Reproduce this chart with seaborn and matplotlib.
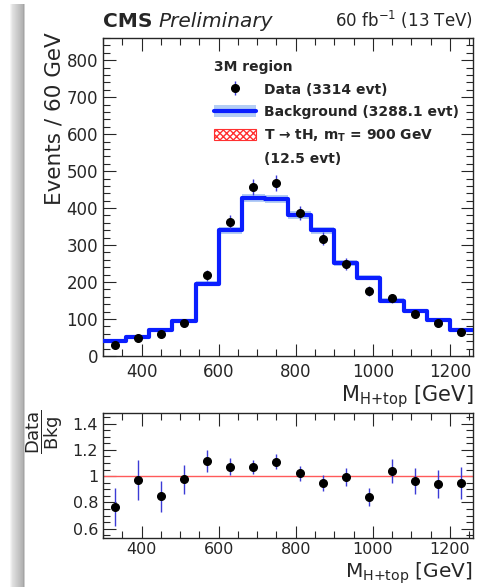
import numpy as np
import matplotlib.pyplot as plt
import seaborn as sns
from matplotlib.patches import Patch
from matplotlib.lines import Line2D
from matplotlib.ticker import MultipleLocator, FuncFormatter

# Binning (60 GeV bins)
bin_edges = [300, 360, 420, 480, 540, 600, 660, 720, 780, 840, 900, 960, 1020, 1080, 1140, 1200, 1260]
bin_centers = [330, 390, 450, 510, 570, 630, 690, 750, 810, 870, 930, 990, 1050, 1110, 1170, 1230]

# Expected background, its uncertainty and the T -> tH signal (stacked on top)
background = [41, 52, 70, 94, 196, 340, 428, 424, 381, 340, 252, 212, 150, 122, 97, 69]
background_unc = [4, 4, 5, 6, 8, 10, 11, 11, 10, 10, 8, 7, 6, 5, 5, 4]
signal = [0, 0, 0, 0, 0, 0, 0.1, 0.3, 0.8, 2.5, 4.0, 2.5, 1.2, 0.6, 0.3, 0.2]

# Observed data
data = [30, 50, 59, 90, 218, 362, 457, 467, 387, 317, 248, 176, 156, 114, 90, 65]
data_err = [6, 7, 8, 10, 15, 19, 21, 22, 20, 18, 16, 13, 12, 11, 10, 8]

# Data / background ratio
ratio = [0.765, 0.97, 0.846, 0.975, 1.114, 1.072, 1.072, 1.111, 1.022, 0.949, 0.993, 0.844, 1.04, 0.965, 0.938, 0.949]
ratio_err = [0.145, 0.15, 0.12, 0.113, 0.084, 0.064, 0.054, 0.06, 0.056, 0.058, 0.068, 0.068, 0.092, 0.098, 0.107, 0.123]

blue = '#0a1eff'
band_color = '#b3cdf5'
red = '#ff3030'
err_color = '#3b3bd6'

sns.set_style("ticks")
plt.rcParams['font.family'] = 'DejaVu Sans'
plt.rcParams['mathtext.fontset'] = 'dejavusans'

fig = plt.figure(figsize=(4.81, 5.87), dpi=100)
ax = fig.add_axes([103 / 481, 1 - 356 / 587, 370 / 481, 318 / 587])
ax2 = fig.add_axes([103 / 481, 1 - 538 / 587, 370 / 481, 125 / 587])

# page shadow on the left side
bg = fig.add_axes([0, 0, 26 / 481, 1 - 4 / 587], zorder=-5)
shade = np.interp(np.arange(26), [0, 9, 12, 22, 23.5, 24.5, 25], [1, 1, 0.88, 0.7, 0.62, 1, 1])
bg.imshow(np.tile(shade, (50, 1)), cmap='gray', vmin=0, vmax=1, aspect='auto',
          extent=[0, 1, 0, 1])
bg.axis('off')

# ---- main panel ----
bkg = np.array(background, dtype=float)
unc = np.array(background_unc, dtype=float)
sig = np.array(signal, dtype=float)

ax.stairs(bkg + unc, bin_edges, baseline=bkg - unc, fill=True,
          facecolor=band_color, edgecolor='none', zorder=1)
ax.stairs(bkg + sig, bin_edges, baseline=bkg, fill=True, facecolor='none',
          edgecolor=red, hatch='xxxxx', linewidth=0.8, zorder=2)
# background as a step line (last value repeated to close the last bin)
sns.lineplot(x=bin_edges, y=background + [background[-1]], drawstyle='steps-post',
             color=blue, linewidth=3, ax=ax, zorder=3)
data_plot = ax.errorbar(bin_centers, data, yerr=data_err, fmt='o', color='black',
                        ms=5.5, ecolor=err_color, elinewidth=1, capsize=0, zorder=4)

ax.set_xlim(300, 1260)
ax.set_ylim(0, 860)
ax.set_xlabel('')
ax.set_ylabel('')
ax.xaxis.set_major_locator(MultipleLocator(200))
ax.xaxis.set_minor_locator(MultipleLocator(50))
ax.yaxis.set_major_locator(MultipleLocator(100))
ax.yaxis.set_minor_locator(MultipleLocator(20))

handles = [data_plot,
           (Patch(facecolor=band_color, edgecolor='none'), Line2D([0], [0], color=blue, lw=3)),
           Patch(facecolor='none', edgecolor=red, hatch='xxxxx', lw=0.8),
           Patch(facecolor='none', edgecolor='none')]
labels = ['Data (3314 evt)', 'Background (3288.1 evt)',
          'T \u2192 tH, m$_{\\mathbf{T}}$ = 900 GeV', '(12.5 evt)']
leg = ax.legend(handles, labels, title='3M region', loc='upper left',
                bbox_to_anchor=(0.3, 0.93), frameon=False, alignment='left',
                prop={'weight': 'bold', 'size': 10},
                title_fontproperties={'weight': 'bold', 'size': 10},
                handlelength=3.0, handleheight=0.9, handletextpad=0.6,
                labelspacing=0.6, borderpad=0, borderaxespad=0)

ax.text(0, 1.035, 'CMS', transform=ax.transAxes, fontsize=14.5,
        fontweight='bold', va='baseline', ha='left')
ax.text(0.151, 1.035, 'Preliminary', transform=ax.transAxes, fontsize=14.5,
        fontstyle='italic', va='baseline', ha='left')
ax.text(1, 1.035, '60 fb$^{-1}$ (13 TeV)', transform=ax.transAxes, fontsize=12,
        va='baseline', ha='right')
ax.text(1, -0.1415, 'M$_{\\mathrm{H{+}top}}$ [GeV]', transform=ax.transAxes,
        fontsize=15, va='baseline', ha='right')
fig.text(55 / 481, 1 - 32 / 587, 'Events / 60 GeV', rotation=90, fontsize=15.5,
         ha='center', va='top')

# ---- ratio panel ----
ax2.axhline(1, color='#ff5a5a', lw=1, zorder=1)
ax2.errorbar(bin_centers, ratio, yerr=ratio_err, fmt='o', color='black', ms=5.5,
             ecolor=err_color, elinewidth=1, capsize=0, zorder=3)
ax2.set_xlim(300, 1260)
ax2.set_ylim(0.53, 1.48)
ax2.xaxis.set_major_locator(MultipleLocator(200))
ax2.xaxis.set_minor_locator(MultipleLocator(50))
ax2.yaxis.set_major_locator(MultipleLocator(0.2))
ax2.yaxis.set_minor_locator(MultipleLocator(0.05))
ax2.yaxis.set_major_formatter(FuncFormatter(lambda v, p: f'{v:g}'))
ax2.text(1, -0.315, 'M$_{\\mathrm{H{+}top}}$ [GeV]', transform=ax2.transAxes,
         fontsize=14.5, va='baseline', ha='right')
fig.text(45 / 481, 1 - 432 / 587, r'$\dfrac{\mathrm{Data}}{\mathrm{Bkg}}$',
         rotation=90, fontsize=13, ha='center', va='center')

for a in (ax, ax2):
    a.tick_params(which='both', direction='in', top=True, right=True,
                  labelsize=12, width=0.8)
    a.tick_params(which='major', length=9)
    a.tick_params(which='minor', length=5)
    a.tick_params(axis='x', pad=5)
    for s in a.spines.values():
        s.set_linewidth(1)
ax2.tick_params(labelsize=11.5)
ax2.tick_params(axis='x', pad=3)

fig.savefig('out.png', dpi=100)
